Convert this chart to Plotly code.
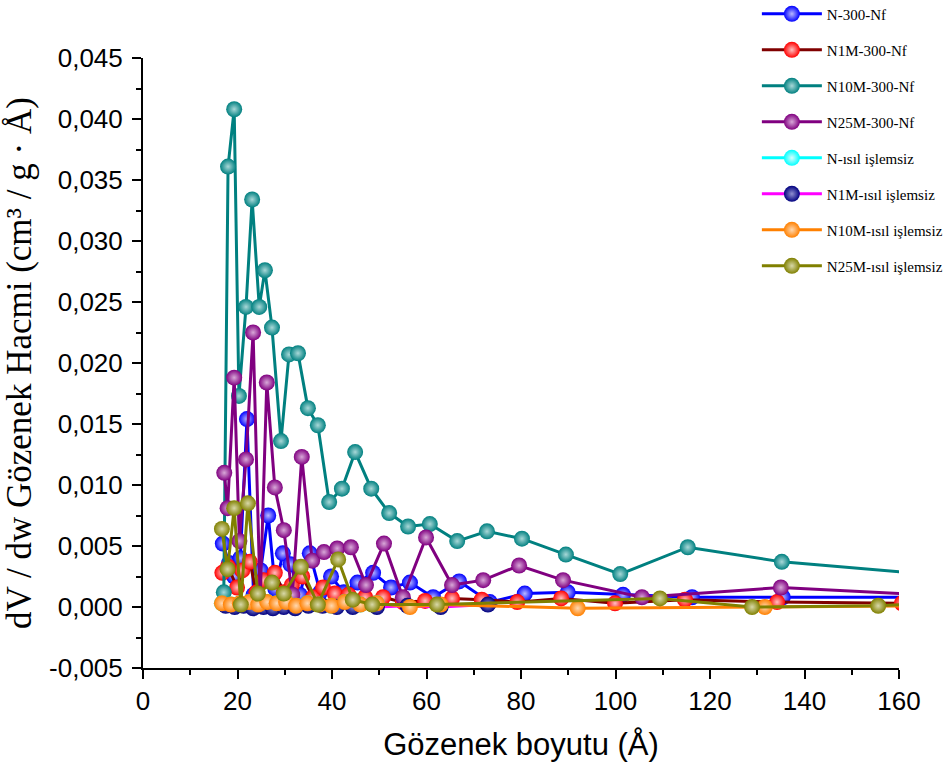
import plotly.graph_objects as go

# Pore size distribution (BJH-style dV/dw) for eight samples.
# Each series: pore width (Å) and dV/dw (cm³ / g · Å).

n300_x = [16.9, 18.2, 19.3, 20.6, 22.0, 23.4, 24.9, 26.5, 28.0, 29.6, 31.2, 33.2, 35.3, 37.5,
          39.8, 42.5, 45.4, 48.7, 52.5, 56.5, 61.4, 66.9, 73.4, 80.8, 89.9, 101.6, 116.2, 135.4, 170.0]
n300_y = [0.0052, 0.0036, 0.0025, 0.0040, 0.0154, 0.0010, 0.0030, 0.0075, 0.0015, 0.0044, 0.0035,
          0.0010, 0.0044, 0.0012, 0.0025, 0.0012, 0.0020, 0.0028, 0.0016, 0.0020, 0.0008, 0.0021,
          0.0004, 0.0011, 0.0012, 0.0010, 0.0008, 0.0008, 0.0008]

n1m300_x = [16.8, 18.0, 19.9, 21.0, 22.6, 24.0, 25.5, 27.9, 29.8, 31.5, 33.7, 36.0, 38.1, 40.6,
            43.5, 47.0, 50.8, 55.0, 59.7, 65.4, 71.7, 79.2, 88.5, 99.9, 114.7, 134.2, 160.6]
n1m300_y = [0.0028, 0.0033, 0.0016, 0.0030, 0.0037, 0.0012, 0.0022, 0.0028, 0.0012, 0.0018, 0.0025,
            0.0008, 0.0016, 0.0011, 0.0010, 0.0008, 0.0008, 0.0004, 0.0005, 0.0007, 0.0006, 0.0004,
            0.0007, 0.0003, 0.0006, 0.0004, 0.0003]

n10m300_x = [17.1, 18.0, 19.3, 20.3, 21.8, 23.1, 24.6, 25.8, 27.3, 29.2, 30.9, 32.8, 34.9, 37.0,
             39.4, 42.1, 44.9, 48.3, 52.1, 56.1, 60.7, 66.5, 72.8, 80.2, 89.5, 101.0, 115.3, 135.2, 175.0]
n10m300_y = [0.0012, 0.0361, 0.0408, 0.0173, 0.0246, 0.0334, 0.0246, 0.0276, 0.0229, 0.0136, 0.0207,
             0.0208, 0.0163, 0.0149, 0.0086, 0.0097, 0.0127, 0.0097, 0.0077, 0.0066, 0.0068, 0.0054,
             0.0062, 0.0056, 0.0043, 0.0027, 0.0049, 0.0037, 0.0024]

n25m300_x = [17.2, 17.9, 19.3, 20.4, 21.8, 23.3, 24.8, 26.2, 27.9, 29.8, 31.6, 33.6, 35.8, 38.3,
             41.1, 44.0, 47.2, 51.0, 55.0, 59.9, 65.4, 72.0, 79.6, 88.9, 105.6, 135.0, 170.0]
n25m300_y = [0.0110, 0.0081, 0.0188, 0.0054, 0.0121, 0.0225, 0.0006, 0.0184, 0.0098, 0.0063, 0.0010,
             0.0123, 0.0038, 0.0045, 0.0048, 0.0049, 0.0018, 0.0052, 0.0008, 0.0057, 0.0018, 0.0022,
             0.0034, 0.0022, 0.0008, 0.0016, 0.0009]

n_raw_x = [16.7, 18.6, 20.5, 22.5, 24.4, 26.3, 28.3, 30.3, 32.4, 34.8, 37.3, 39.9, 42.7, 46.0, 49.5]
n_raw_y = [0.0003, 0.0002, 0.0003, 0.0004, 0.0002, 0.0004, 0.0003, 0.0004, 0.0001, 0.0003, 0.0002,
           0.0001, 0.0004, 0.0002, 0.0003]

n1m_raw_x = [17.5, 19.4, 21.3, 23.3, 25.5, 27.5, 29.8, 32.2, 35.0, 38.0, 41.0, 44.4, 49.5, 56.0,
             63.0, 73.0]
n1m_raw_y = [0.0001, 0.0000, 0.0001, -0.0001, 0.0000, -0.0001, 0.0000, -0.0001, 0.0001, 0.0001,
             0.0000, 0.0000, 0.0000, 0.0001, 0.0000, 0.0002]

n10m_raw_x = [16.7, 18.6, 20.5, 22.5, 24.4, 26.3, 28.3, 30.3, 32.4, 34.8, 37.3, 39.9, 42.7, 46.0,
              49.5, 56.5, 63.0, 92.0, 131.6, 170.0]
n10m_raw_y = [0.0003, 0.0002, 0.0003, 0.0004, 0.0002, 0.0004, 0.0003, 0.0004, 0.0001, 0.0003, 0.0002,
              0.0001, 0.0004, 0.0002, 0.0003, 0.0000, 0.0002, -0.0001, 0.0000, 0.0001]

n25m_raw_x = [16.7, 17.9, 19.3, 20.7, 22.2, 24.3, 27.3, 29.8, 33.4, 37.0, 41.3, 44.4, 48.5, 62.2,
              109.4, 128.9, 155.6, 170.0]
n25m_raw_y = [0.0064, 0.0031, 0.0081, 0.0002, 0.0085, 0.0011, 0.0020, 0.0011, 0.0033, 0.0002, 0.0039,
              0.0006, 0.0002, 0.0002, 0.0007, 0.0000, 0.0001, 0.0004]

names = ["N-300-Nf", "N1M-300-Nf", "N10M-300-Nf", "N25M-300-Nf",
         "N-ısıl işlemsiz", "N1M-ısıl işlemsiz", "N10M-ısıl işlemsiz", "N25M-ısıl işlemsiz"]

x_ticks = [0, 20, 40, 60, 80, 100, 120, 140, 160]
y_ticks = [-0.005, 0.000, 0.005, 0.010, 0.015, 0.020, 0.025, 0.030, 0.035, 0.040, 0.045]
y_tick_text = ["-0,005", "0,000", "0,005", "0,010", "0,015", "0,020", "0,025", "0,030",
               "0,035", "0,040", "0,045"]

series = [
    (n300_x, n300_y, "#0000FF", "#0000FF", "#b8b8ff"),
    (n1m300_x, n1m300_y, "#800000", "#FF0000", "#ffc0c0"),
    (n10m300_x, n10m300_y, "#008080", "#008080", "#a8d8d8"),
    (n25m300_x, n25m300_y, "#800080", "#800080", "#d8a8d8"),
    (n_raw_x, n_raw_y, "#00FFFF", "#00FFFF", "#d8ffff"),
    (n1m_raw_x, n1m_raw_y, "#FF00FF", "#000080", "#9090d0"),
    (n10m_raw_x, n10m_raw_y, "#FF8000", "#FF8000", "#ffd8b0"),
    (n25m_raw_x, n25m_raw_y, "#808000", "#808000", "#d8d8a8"),
]

fig = go.Figure()
for name, (xs, ys, line_c, mark_c, glow) in zip(names, series):
    fig.add_trace(go.Scatter(
        x=xs, y=ys, name=name, mode="lines+markers", legendgroup=name,
        line=dict(color=line_c, width=3),
        marker=dict(size=16, color=mark_c, line=dict(width=0),
                    gradient=dict(type="radial", color=glow)),
    ))

fig.update_layout(
    width=947, height=769,
    margin=dict(l=143, r=48, t=58, b=101, autoexpand=False),
    paper_bgcolor="white", plot_bgcolor="white",
    showlegend=True,
    legend=dict(x=0.812, xanchor="left", y=1.099, yanchor="top",
                traceorder="grouped", tracegroupgap=13.5, itemwidth=60,
                bgcolor="rgba(0,0,0,0)",
                font=dict(family="Liberation Serif", size=15, color="black")),
    xaxis=dict(
        range=[0, 160], tickvals=x_ticks, showgrid=False, zeroline=False,
        showline=True, linecolor="black", linewidth=2,
        ticks="outside", ticklen=9, tickwidth=2, tickcolor="black",
        minor=dict(ticks="outside", ticklen=5, tickwidth=2, tickcolor="black", dtick=10),
        tickfont=dict(family="Liberation Sans", size=26, color="black"),
        title=dict(text="Gözenek boyutu (Å)", standoff=18,
                   font=dict(family="Liberation Sans", size=31, color="black")),
    ),
    yaxis=dict(
        range=[-0.005, 0.045], tickvals=y_ticks, ticktext=y_tick_text,
        showgrid=False, zeroline=False,
        showline=True, linecolor="black", linewidth=2,
        ticks="outside", ticklen=9, tickwidth=2, tickcolor="black",
        ticklabelstandoff=4,
        minor=dict(ticks="outside", ticklen=5, tickwidth=2, tickcolor="black", dtick=0.0025),
        tickfont=dict(family="Liberation Sans", size=26, color="black"),
        title=dict(text="dV / dw Gözenek Hacmi (cm³ / g · Å)", standoff=7,
                   font=dict(family="Liberation Serif", size=35, color="black")),
    ),
)

fig.write_html("out.html")
